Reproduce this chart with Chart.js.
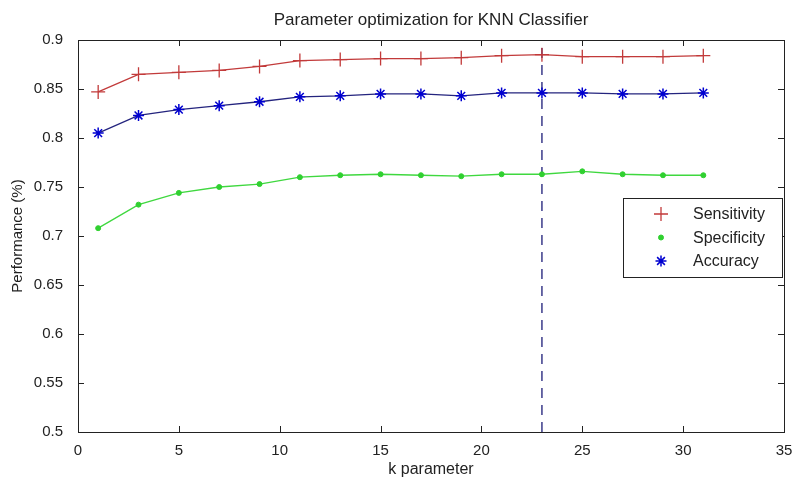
<!DOCTYPE html>
<html>
<head>
<meta charset="utf-8">
<script src="https://cdn.jsdelivr.net/npm/chart.js@4"></script>
<style>
  html, body { margin: 0; padding: 0; background: #fff; }
  #wrap { width: 798px; height: 479px; }
</style>
</head>
<body>
<div id="wrap"><canvas id="knnChart" width="798" height="479"></canvas></div>
<script>
// values
const kValues = [1, 3, 5, 7, 9, 11, 13, 15, 17, 19, 21, 23, 25, 27, 29, 31];
const sensitivity = [0.847, 0.865, 0.867, 0.869, 0.873, 0.879, 0.880, 0.881, 0.881, 0.882, 0.884, 0.885, 0.883, 0.883, 0.883, 0.884];
const specificity = [0.708, 0.732, 0.744, 0.750, 0.753, 0.760, 0.762, 0.763, 0.762, 0.761, 0.763, 0.763, 0.766, 0.763, 0.762, 0.762];
const accuracy = [0.805, 0.823, 0.829, 0.833, 0.837, 0.842, 0.843, 0.845, 0.845, 0.843, 0.846, 0.846, 0.846, 0.845, 0.845, 0.846];
const bestK = [23, 23];
const bestKSpan = [0.5, 0.9];
const xTicks = [0, 5, 10, 15, 20, 25, 30, 35];
const yTicks = [0.5, 0.55, 0.6, 0.65, 0.7, 0.75, 0.8, 0.85, 0.9];
const seriesNames = ["Sensitivity", "Specificity", "Accuracy"];

const FONT = "'Liberation Sans', Arial, sans-serif";
const INK = "#222";

const toPoints = (xs, ys) => xs.map((x, i) => ({ x, y: ys[i] }));

// matlab-ish frame, inward ticks, title and legend box
const matlabFrame = {
  id: "matlabFrame",
  afterDraw(chart) {
    const { ctx, chartArea: a, scales } = chart;
    ctx.save();
    ctx.strokeStyle = INK;
    ctx.lineWidth = 1;
    ctx.strokeRect(Math.round(a.left) + 0.5, Math.round(a.top) + 0.5,
                   Math.round(a.right - a.left), Math.round(a.bottom - a.top));
    ctx.beginPath();
    xTicks.forEach(v => {
      const px = Math.round(scales.x.getPixelForValue(v)) + 0.5;
      ctx.moveTo(px, a.bottom); ctx.lineTo(px, a.bottom - 6);
      ctx.moveTo(px, a.top); ctx.lineTo(px, a.top + 6);
    });
    yTicks.forEach(v => {
      const py = Math.round(scales.y.getPixelForValue(v)) + 0.5;
      ctx.moveTo(a.left, py); ctx.lineTo(a.left + 6, py);
      ctx.moveTo(a.right, py); ctx.lineTo(a.right - 6, py);
    });
    ctx.stroke();

    // title
    ctx.fillStyle = INK;
    ctx.font = "17px " + FONT;
    ctx.textAlign = "center";
    ctx.textBaseline = "middle";
    ctx.fillText("Parameter optimization for KNN Classifier", (a.left + a.right) / 2, 20);

    // legend
    const bx = 623, by = 198, bw = 159, bh = 79;
    ctx.fillStyle = "#fff";
    ctx.fillRect(bx, by, bw, bh);
    ctx.strokeStyle = INK;
    ctx.strokeRect(bx + 0.5, by + 0.5, bw, bh);
    ctx.font = "16px " + FONT;
    ctx.textAlign = "left";
    seriesNames.forEach((name, i) => {
      const ds = chart.data.datasets[i];
      const cy = by + 16 + i * 23.5;
      ctx.strokeStyle = ds.pointBorderColor;
      ctx.fillStyle = ds.pointBackgroundColor;
      ctx.lineWidth = ds.pointBorderWidth;
      Chart.helpers.drawPoint(ctx, {
        pointStyle: ds.pointStyle, radius: ds.pointRadius, rotation: 0,
        borderWidth: ds.pointBorderWidth
      }, bx + 38, cy);
      ctx.fillStyle = INK;
      ctx.fillText(name, bx + 70, cy + 1);
    });
    ctx.restore();
  }
};

const ctx = document.getElementById("knnChart").getContext("2d");
new Chart(ctx, {
  type: "line",
  data: {
    datasets: [
      {
        label: seriesNames[0],
        data: toPoints(kValues, sensitivity),
        borderColor: "#c23a3a",
        backgroundColor: "#c23a3a",
        borderWidth: 1.3,
        pointStyle: "cross",
        pointRadius: 7,
        pointBorderWidth: 1.3,
        pointBorderColor: "#c23a3a",
        pointBackgroundColor: "#c23a3a"
      },
      {
        label: seriesNames[1],
        data: toPoints(kValues, specificity),
        borderColor: "#3fd83f",
        backgroundColor: "#3fd83f",
        borderWidth: 1.3,
        pointStyle: "circle",
        pointRadius: 2.5,
        pointBorderWidth: 1,
        pointBorderColor: "#30d030",
        pointBackgroundColor: "#30d030"
      },
      {
        label: seriesNames[2],
        data: toPoints(kValues, accuracy),
        borderColor: "#24247e",
        backgroundColor: "#0000d0",
        borderWidth: 1.3,
        pointStyle: "star",
        pointRadius: 5.5,
        pointBorderWidth: 1.5,
        pointBorderColor: "#0000d0",
        pointBackgroundColor: "#0000d0"
      },
      {
        label: "best k",
        data: toPoints(bestK, bestKSpan),
        borderColor: "#1c1c78",
        borderWidth: 1.3,
        borderDash: [10, 7],
        pointRadius: 0
      }
    ]
  },
  options: {
    responsive: false,
    animation: false,
    layout: { padding: { left: 0, top: 40, right: 14, bottom: 0 } },
    scales: {
      x: {
        type: "linear",
        min: 0,
        max: 35,
        afterBuildTicks: s => { s.ticks = xTicks.map(v => ({ value: v })); },
        afterFit: s => { s.height = 47; s.paddingRight = 0; },
        grid: { display: false },
        border: { display: false },
        ticks: { color: INK, font: { family: FONT, size: 15 }, padding: 2, maxRotation: 0 },
        title: { display: true, text: "k parameter", color: INK, font: { family: FONT, size: 16 }, padding: { top: 0, bottom: 0 } }
      },
      y: {
        min: 0.5,
        max: 0.9,
        afterBuildTicks: s => { s.ticks = yTicks.map(v => ({ value: v })); },
        afterFit: s => { s.width = 78; },
        grid: { display: false },
        border: { display: false },
        ticks: {
          color: INK,
          font: { family: FONT, size: 15 },
          padding: 7,
          callback: v => String(+v.toFixed(2))
        },
        title: { display: true, text: "Performance (%)", color: INK, font: { family: FONT, size: 15 }, padding: { top: 9, bottom: 0 } }
      }
    },
    plugins: {
      legend: { display: false },
      tooltip: { enabled: false }
    }
  },
  plugins: [matlabFrame]
});
</script>
</body>
</html>
